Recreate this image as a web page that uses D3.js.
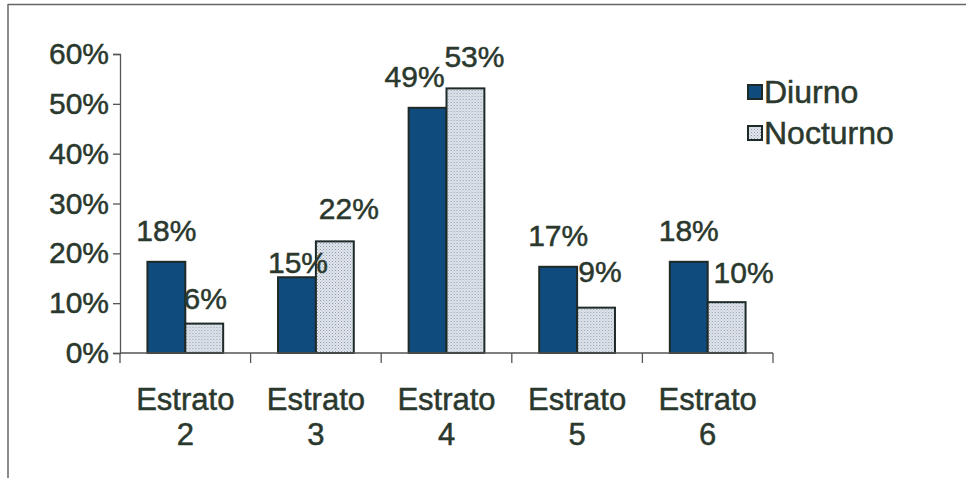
<!DOCTYPE html>
<html>
<head>
<meta charset="utf-8">
<script src="https://cdn.jsdelivr.net/npm/d3@7/dist/d3.min.js"></script>
<style>
  html, body { margin: 0; padding: 0; background: #ffffff; }
  svg { display: block; }
  text { font-family: "Liberation Sans", Arial, sans-serif; fill: #2a382d; stroke: #2a382d; stroke-width: 0.5px; }
</style>
</head>
<body>
<svg id="chart" width="970" height="480"></svg>
<script>
// ---- data ----
const categories = ["Estrato 2", "Estrato 3", "Estrato 4", "Estrato 5", "Estrato 6"];
const seriesNames = ["Diurno", "Nocturno"];
const diurno = [18.3, 15.2, 49.2, 17.3, 18.3];
const nocturno = [5.9, 22.4, 53.1, 9.1, 10.2];
const yTicks = [0, 10, 20, 30, 40, 50, 60];

// label nudges (px) for the data labels, [dx, dy] per category for each series
const nudgeDiurno = [[0, 0], [1, 16], [-13, 0], [0, 0], [0, 0]];
const nudgeNocturno = [[1, 6], [14, -2], [9, -1], [4, -5], [17, 1]];

(function () {
const svg = d3.select("#chart");
const mLeft = 120, mRight = 773, mTop = 54, mBottom = 353;
const fmt = d3.format(".0f");

// frame
svg.append("line").attr("x1", 8).attr("x2", 966).attr("y1", 4.5).attr("y2", 4.5)
  .attr("stroke", "#666").attr("stroke-width", 1.5);
svg.append("line").attr("x1", 8).attr("x2", 8).attr("y1", 4).attr("y2", 478)
  .attr("stroke", "#666").attr("stroke-width", 1.5);

// pattern for Nocturno
const defs = svg.append("defs");
const pat = defs.append("pattern").attr("id", "dots").attr("patternUnits", "userSpaceOnUse")
  .attr("width", 3).attr("height", 3);
pat.append("rect").attr("width", 3).attr("height", 3).attr("fill", "#e0e6ec");
pat.append("rect").attr("x", 0).attr("y", 0).attr("width", 1).attr("height", 1).attr("fill", "#8e9aac");
pat.append("rect").attr("x", 1.5).attr("y", 1.5).attr("width", 1).attr("height", 1).attr("fill", "#a9b3c2");

const fills = { "Diurno": "#104b7d", "Nocturno": "url(#dots)" };

const x0 = d3.scaleBand().domain(categories).range([mLeft, mRight])
  .paddingInner(0.42).paddingOuter(0.21);
const x1 = d3.scaleBand().domain(seriesNames).range([0, x0.bandwidth()]).padding(0);
const y = d3.scaleLinear().domain([0, 60]).range([mBottom, mTop]);

const rows = categories.map((c, i) => ({
  cat: c,
  vals: [
    { s: "Diurno", v: diurno[i], n: nudgeDiurno[i] },
    { s: "Nocturno", v: nocturno[i], n: nudgeNocturno[i] }
  ]
}));

// y axis
const yAxis = d3.axisLeft(y).tickValues(yTicks).tickSize(7).tickPadding(4)
  .tickFormat(d => d + "%");
const gy = svg.append("g").attr("transform", `translate(${mLeft},0)`).call(yAxis);
gy.select(".domain").attr("stroke", "#555").attr("stroke-width", 1.3);
gy.selectAll(".tick line").attr("stroke", "#555").attr("stroke-width", 1.3);
gy.selectAll(".tick text").attr("font-size", 30).attr("fill", "#2a382d")
  .style("font-family", '"Liberation Sans", Arial, sans-serif');

// bars
const groups = svg.append("g").selectAll("g").data(rows).join("g")
  .attr("transform", d => `translate(${x0(d.cat)},0)`);
groups.selectAll("rect").data(d => d.vals).join("rect")
  .attr("x", d => x1(d.s))
  .attr("y", d => y(d.v))
  .attr("width", x1.bandwidth())
  .attr("height", d => y(0) - y(d.v))
  .attr("fill", d => fills[d.s])
  .attr("stroke", "#1e2a28").attr("stroke-width", 2);

// data labels
groups.selectAll("text.lbl").data(d => d.vals).join("text")
  .attr("class", "lbl")
  .attr("x", d => x1(d.s) + x1.bandwidth() / 2 + d.n[0])
  .attr("y", d => y(d.v) - 31 + d.n[1])
  .attr("text-anchor", "middle")
  .attr("dominant-baseline", "central")
  .attr("font-size", 30)
  .text(d => fmt(d.v) + "%");

// x axis line and ticks at category boundaries
const step = x0.step();
const bounds = categories.map(c => x0(c) - x0.paddingOuter() * step).concat([mRight]);
svg.append("line").attr("x1", mLeft).attr("x2", mRight).attr("y1", y(0)).attr("y2", y(0))
  .attr("stroke", "#555").attr("stroke-width", 1.3);
svg.append("g").selectAll("line").data(bounds).join("line")
  .attr("x1", d => d).attr("x2", d => d)
  .attr("y1", y(0)).attr("y2", y(0) + 10)
  .attr("stroke", "#555").attr("stroke-width", 1.3);

// category labels
const catG = svg.append("g").selectAll("text").data(categories).join("text")
  .attr("text-anchor", "middle")
  .attr("font-size", 31)
  .attr("x", d => x0(d) + x0.bandwidth() / 2);
catG.append("tspan").attr("x", d => x0(d) + x0.bandwidth() / 2).attr("y", 410)
  .text(d => d.split(" ")[0]);
catG.append("tspan").attr("x", d => x0(d) + x0.bandwidth() / 2).attr("y", 445)
  .text(d => d.split(" ")[1]);

// legend
const leg = svg.append("g").attr("transform", "translate(748,85)");
const li = leg.selectAll("g").data(seriesNames).join("g")
  .attr("transform", (d, i) => `translate(0,${i * 41})`);
li.append("rect").attr("width", 14).attr("height", 14)
  .attr("fill", d => fills[d]).attr("stroke", "#1e2a28").attr("stroke-width", 2);
li.append("text").attr("x", 16).attr("y", 7).attr("dominant-baseline", "central")
  .attr("font-size", 32).text(d => d);
})();
</script>
</body>
</html>
